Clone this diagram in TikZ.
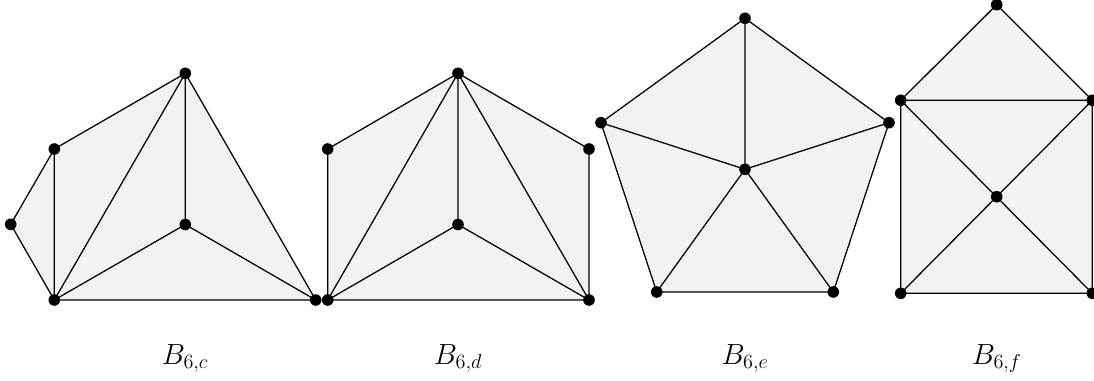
\documentclass[tikz,border=0pt]{standalone}
\begin{document}
\begin{tikzpicture}[x=0.025cm,y=-0.025cm,
  vtx/.style={circle,fill=black,inner sep=0pt,minimum size=0.29cm},
  edge/.style={line width=0.9pt,black},
  face/.style={fill=gray!10},
  lbl/.style={anchor=base,font=\fontsize{20.5}{24}\selectfont}]
\useasboundingbox (0,0) rectangle (1094,381);
% ---------- B_{6,c}
\coordinate (ca) at (10.7,224.3);
\coordinate (cb) at (54.3,149);
\coordinate (ct) at (185.3,73.3);
\coordinate (ci) at (185.3,224.5);
\coordinate (cl) at (54.3,300);
\coordinate (cr) at (315.7,300);
\fill[face] (ca)--(cb)--(ct)--(cr)--(cl)--cycle;
\draw[edge] (ca)--(cb) (ca)--(cl) (cb)--(cl) (cb)--(ct) (ct)--(cl) (ct)--(ci) (ct)--(cr) (ci)--(cl) (ci)--(cr) (cl)--(cr);
\foreach \p in {ca,cb,ct,ci,cl,cr} \node[vtx] (n\p) at (\p) {};
\node[lbl] (lc) at (185,364) {$B_{6,c}$};
% ---------- B_{6,d}
\coordinate (da) at (327.7,149);
\coordinate (dt) at (458,73.3);
\coordinate (di) at (458,224.5);
\coordinate (db) at (589,149);
\coordinate (dl) at (327.7,300);
\coordinate (dr) at (589,300);
\fill[face] (da)--(dt)--(db)--(dr)--(dl)--cycle;
\draw[edge] (da)--(dt)--(db)--(dr)--(dl)--cycle (dt)--(dl) (dt)--(di) (dt)--(dr) (di)--(dl) (di)--(dr);
\foreach \p in {da,dt,di,db,dl,dr} \node[vtx] (n\p) at (\p) {};
\node[lbl] (ld) at (458,364) {$B_{6,d}$};
% ---------- B_{6,e}
\coordinate (et) at (745,18.3);
\coordinate (ea) at (601,122.7);
\coordinate (eb) at (889,122.7);
\coordinate (ec) at (745,169.3);
\coordinate (el) at (656.7,292);
\coordinate (er) at (833.3,292);
\fill[face] (et)--(eb)--(er)--(el)--(ea)--cycle;
\draw[edge] (et)--(eb)--(er)--(el)--(ea)--cycle (ec)--(et) (ec)--(ea) (ec)--(eb) (ec)--(el) (ec)--(er);
\foreach \p in {et,ea,eb,ec,el,er} \node[vtx] (n\p) at (\p) {};
\node[lbl] (le) at (745,364) {$B_{6,e}$};
% ---------- B_{6,f}
\coordinate (ft) at (996.7,4.7);
\coordinate (fa) at (900.7,100.3);
\coordinate (fb) at (1092.3,100.3);
\coordinate (fc) at (996.7,196.7);
\coordinate (fl) at (900.7,293.3);
\coordinate (fr) at (1092.3,293.3);
\fill[face] (ft)--(fb)--(fr)--(fl)--(fa)--cycle;
\draw[edge] (ft)--(fb)--(fr)--(fl)--(fa)--cycle (fa)--(fb) (fa)--(fr) (fb)--(fl);
\foreach \p in {ft,fa,fb,fc,fl,fr} \node[vtx] (n\p) at (\p) {};
\node[lbl] (lf) at (996.7,364) {$B_{6,f}$};
\end{tikzpicture}
\end{document}
